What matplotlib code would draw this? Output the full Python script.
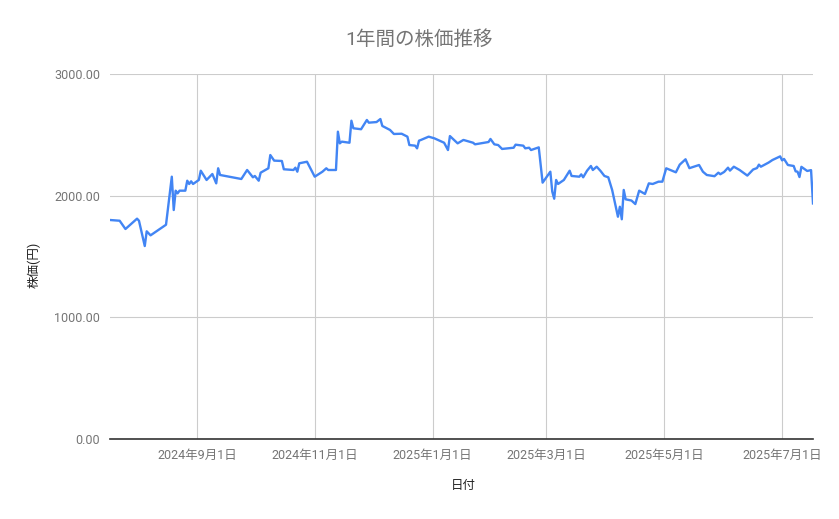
import matplotlib
matplotlib.use("Agg")
import matplotlib.pyplot as plt
import pandas as pd

plt.rcParams['font.family'] = ['Roboto', 'Noto Sans CJK JP', 'DejaVu Sans']

title = "1年間の株価推移"
x_label = "日付"
y_label = "株価(円)"

dates = [
    "2024-07-18", "2024-07-23", "2024-07-26", "2024-08-01", "2024-08-02", "2024-08-05",
    "2024-08-06", "2024-08-08", "2024-08-16", "2024-08-19", "2024-08-20", "2024-08-21",
    "2024-08-22", "2024-08-23", "2024-08-26", "2024-08-27", "2024-08-28", "2024-08-29",
    "2024-08-30", "2024-09-02", "2024-09-03", "2024-09-06", "2024-09-09", "2024-09-11",
    "2024-09-12", "2024-09-13", "2024-09-24", "2024-09-27", "2024-09-30", "2024-10-01",
    "2024-10-03", "2024-10-04", "2024-10-08", "2024-10-09", "2024-10-11", "2024-10-15",
    "2024-10-16", "2024-10-21", "2024-10-22", "2024-10-23", "2024-10-24", "2024-10-28",
    "2024-11-01", "2024-11-05", "2024-11-07", "2024-11-08", "2024-11-12", "2024-11-13",
    "2024-11-14", "2024-11-15", "2024-11-19", "2024-11-20", "2024-11-21", "2024-11-25",
    "2024-11-28", "2024-11-29", "2024-12-03", "2024-12-05", "2024-12-06", "2024-12-10",
    "2024-12-12", "2024-12-16", "2024-12-19", "2024-12-20", "2024-12-23", "2024-12-24",
    "2024-12-25", "2024-12-26", "2024-12-30", "2025-01-02", "2025-01-07", "2025-01-09",
    "2025-01-10", "2025-01-14", "2025-01-17", "2025-01-22", "2025-01-23", "2025-01-30",
    "2025-01-31", "2025-02-02", "2025-02-04", "2025-02-06", "2025-02-12", "2025-02-13",
    "2025-02-17", "2025-02-18", "2025-02-20", "2025-02-21", "2025-02-25", "2025-02-27",
    "2025-03-03", "2025-03-04", "2025-03-05", "2025-03-06", "2025-03-07", "2025-03-10",
    "2025-03-13", "2025-03-14", "2025-03-18", "2025-03-19", "2025-03-20", "2025-03-22",
    "2025-03-24", "2025-03-25", "2025-03-27", "2025-03-29", "2025-03-31", "2025-04-02",
    "2025-04-04", "2025-04-07", "2025-04-08", "2025-04-09", "2025-04-10", "2025-04-11",
    "2025-04-14", "2025-04-16", "2025-04-18", "2025-04-21", "2025-04-23", "2025-04-25",
    "2025-04-28", "2025-04-30", "2025-05-02", "2025-05-05", "2025-05-07", "2025-05-09",
    "2025-05-12", "2025-05-14", "2025-05-19", "2025-05-21", "2025-05-23", "2025-05-27",
    "2025-05-29", "2025-05-30", "2025-06-01", "2025-06-03", "2025-06-04", "2025-06-06",
    "2025-06-09", "2025-06-13", "2025-06-16", "2025-06-18", "2025-06-19", "2025-06-20",
    "2025-06-24", "2025-06-26", "2025-06-30", "2025-07-01", "2025-07-02", "2025-07-04",
    "2025-07-07", "2025-07-08", "2025-07-09", "2025-07-10", "2025-07-11", "2025-07-14",
    "2025-07-16", "2025-07-17",
]

prices = [
    1800, 1794, 1726, 1811, 1794, 1586,
    1707, 1674, 1761, 2156, 1882, 2041,
    2019, 2041, 2041, 2123, 2096, 2118,
    2096, 2129, 2205, 2129, 2178, 2101,
    2225, 2170, 2137, 2211, 2151, 2162,
    2123, 2189, 2225, 2334, 2288, 2285,
    2217, 2211, 2230, 2197, 2266, 2279,
    2156, 2197, 2225, 2211, 2211, 2526,
    2430, 2444, 2435, 2616, 2554, 2546,
    2622, 2600, 2605, 2630, 2573, 2540,
    2507, 2509, 2485, 2416, 2411, 2389,
    2452, 2458, 2485, 2471, 2435, 2375,
    2490, 2430, 2458, 2435, 2422, 2441,
    2466, 2422, 2416, 2384, 2394, 2419,
    2411, 2389, 2394, 2375, 2397, 2107,
    2197, 2033, 1975, 2129, 2096, 2129,
    2205, 2162, 2156, 2175, 2151, 2205,
    2244, 2211, 2238, 2203, 2162, 2151,
    2047, 1827, 1909, 1806, 2047, 1970,
    1960, 1931, 2041, 2014, 2101, 2096,
    2115, 2115, 2225, 2205, 2192, 2255,
    2299, 2226, 2252, 2197, 2170, 2160,
    2189, 2176, 2195, 2230, 2206, 2238,
    2211, 2165, 2215, 2227, 2255, 2238,
    2272, 2293, 2323, 2290, 2302, 2252,
    2244, 2200, 2197, 2153, 2237, 2203,
    2210, 1936,
]

tick_dates = ["2024-09-01", "2024-11-01", "2025-01-01", "2025-03-01", "2025-05-01", "2025-07-01"]
tick_labels = ["2024年9月1日", "2024年11月1日", "2025年1月1日", "2025年3月1日", "2025年5月1日", "2025年7月1日"]
y_ticks = [0, 1000, 2000, 3000]
y_tick_labels = ["0.00", "1000.00", "2000.00", "3000.00"]

W, H = 839, 519
fig = plt.figure(figsize=(W / 100, H / 100), dpi=100)
ax = fig.add_axes([110 / W, (H - 439) / H, (813 - 110) / W, 365 / H])

d = pd.to_datetime(dates)
ax.plot(d, prices, color="#4285F4", linewidth=1.7, solid_joinstyle="round", zorder=3)

ax.set_xlim(d[0], d[-1])
ax.set_ylim(0, 3000)
ax.set_xticks(pd.to_datetime(tick_dates))
ax.set_xticklabels(tick_labels)
ax.set_yticks(y_ticks)
ax.set_yticklabels(y_tick_labels)

ax.grid(True, color="#cccccc", linewidth=0.8, zorder=0)
ax.set_axisbelow(True)
for s in ["top", "right", "left"]:
    ax.spines[s].set_visible(False)
ax.spines["bottom"].set_color("#333333")
ax.spines["bottom"].set_linewidth(1.2)
ax.spines["bottom"].set_zorder(4)
ax.tick_params(axis="both", length=0, labelsize=9, labelcolor="#757575")
ax.tick_params(axis="y", pad=7)
ax.tick_params(axis="x", pad=7)

fig.text(0.5, 1 - 40 / H, title, ha="center", va="center", fontsize=14, color="#757575")
fig.text(463 / W, 1 - 486 / H, x_label, ha="center", va="center", fontsize=9, color="#222222")
fig.text(34 / W, 1 - 265 / H, y_label, ha="center", va="center", rotation=90, fontsize=9, color="#222222")

fig.savefig("out.png", dpi=100)
